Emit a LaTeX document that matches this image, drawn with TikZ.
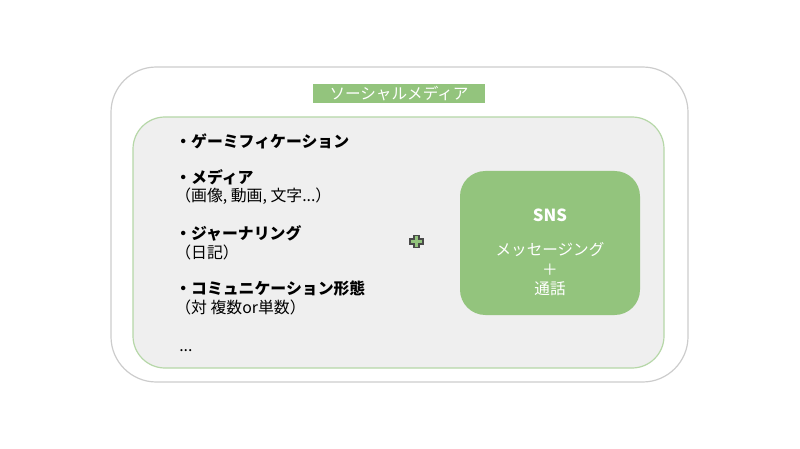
\documentclass[tikz,border=0pt]{standalone}
\usepackage{fontspec}
\usepackage{xcolor}
\usepackage{tikz}
\setmainfont{Noto Sans CJK JP}

\definecolor{vert}{HTML}{93C47D}
\definecolor{vert clair}{HTML}{B6D7A8}
\definecolor{gris fond}{HTML}{EFEFEF}
\definecolor{gris bord}{HTML}{CCCCCC}
\definecolor{gris fonce}{HTML}{4A4A4A}

\begin{document}
\begin{tikzpicture}[x=0.75pt,y=-0.75pt,
   outer frame/.style={draw=gris bord,line width=0.9pt,rounded corners=34pt},
   inner frame/.style={draw=vert clair,fill=gris fond,line width=0.9pt,rounded corners=24pt},
   green box/.style={fill=vert,inner sep=0pt},
   item/.style={anchor=west,inner sep=0pt,align=left,font=\fontsize{11.9}{14}\selectfont},
   white text/.style={text=white,inner sep=0pt,align=center,font=\fontsize{11.7}{14.6}\selectfont}]

  \useasboundingbox (0,0) rectangle (800,449);

  % frames
  \draw[outer frame] (111,67) rectangle (688,382);
  \draw[inner frame] (133,117) rectangle (664,368);

  % title
  \node[green box,white text,minimum width=129pt,minimum height=14.25pt] (title) at (399,93.5) {ソーシャルメディア};

  % left list
  \node[item] (gamification) at (175,141) {\textbf{・ゲーミフィケーション}};
  \node[item] (media) at (175,187) {\textbf{・メディア}\\（画像, 動画, 文字...）};
  \node[item] (journaling) at (175,242.5) {\textbf{・ジャーナリング}\\（日記）};
  \node[item] (communication) at (175,298) {\textbf{・コミュニケーション形態}\\（対 複数or単数）};
  \node[item] (etc) at (179,351) {...};

  % plus
  \draw[draw=gris fonce,fill=vert,line width=0.8pt]
    (414,235.5) -- ++(5,0) -- ++(0,3.5) -- ++(4,0) -- ++(0,5) -- ++(-4,0) -- ++(0,3.5)
    -- ++(-5,0) -- ++(0,-3.5) -- ++(-4,0) -- ++(0,-5) -- ++(4,0) -- cycle;

  % SNS
  \node[green box,rounded corners=19pt,minimum width=135pt,minimum height=108pt] (sns box) at (550,243) {};
  \node[white text,font=\fontsize{12.5}{14}\selectfont\bfseries] (sns) at (550,215) {SNS};
  \node[white text] (messaging) at (550,269.5) {メッセージング\\＋\\通話};
\end{tikzpicture}
\end{document}
